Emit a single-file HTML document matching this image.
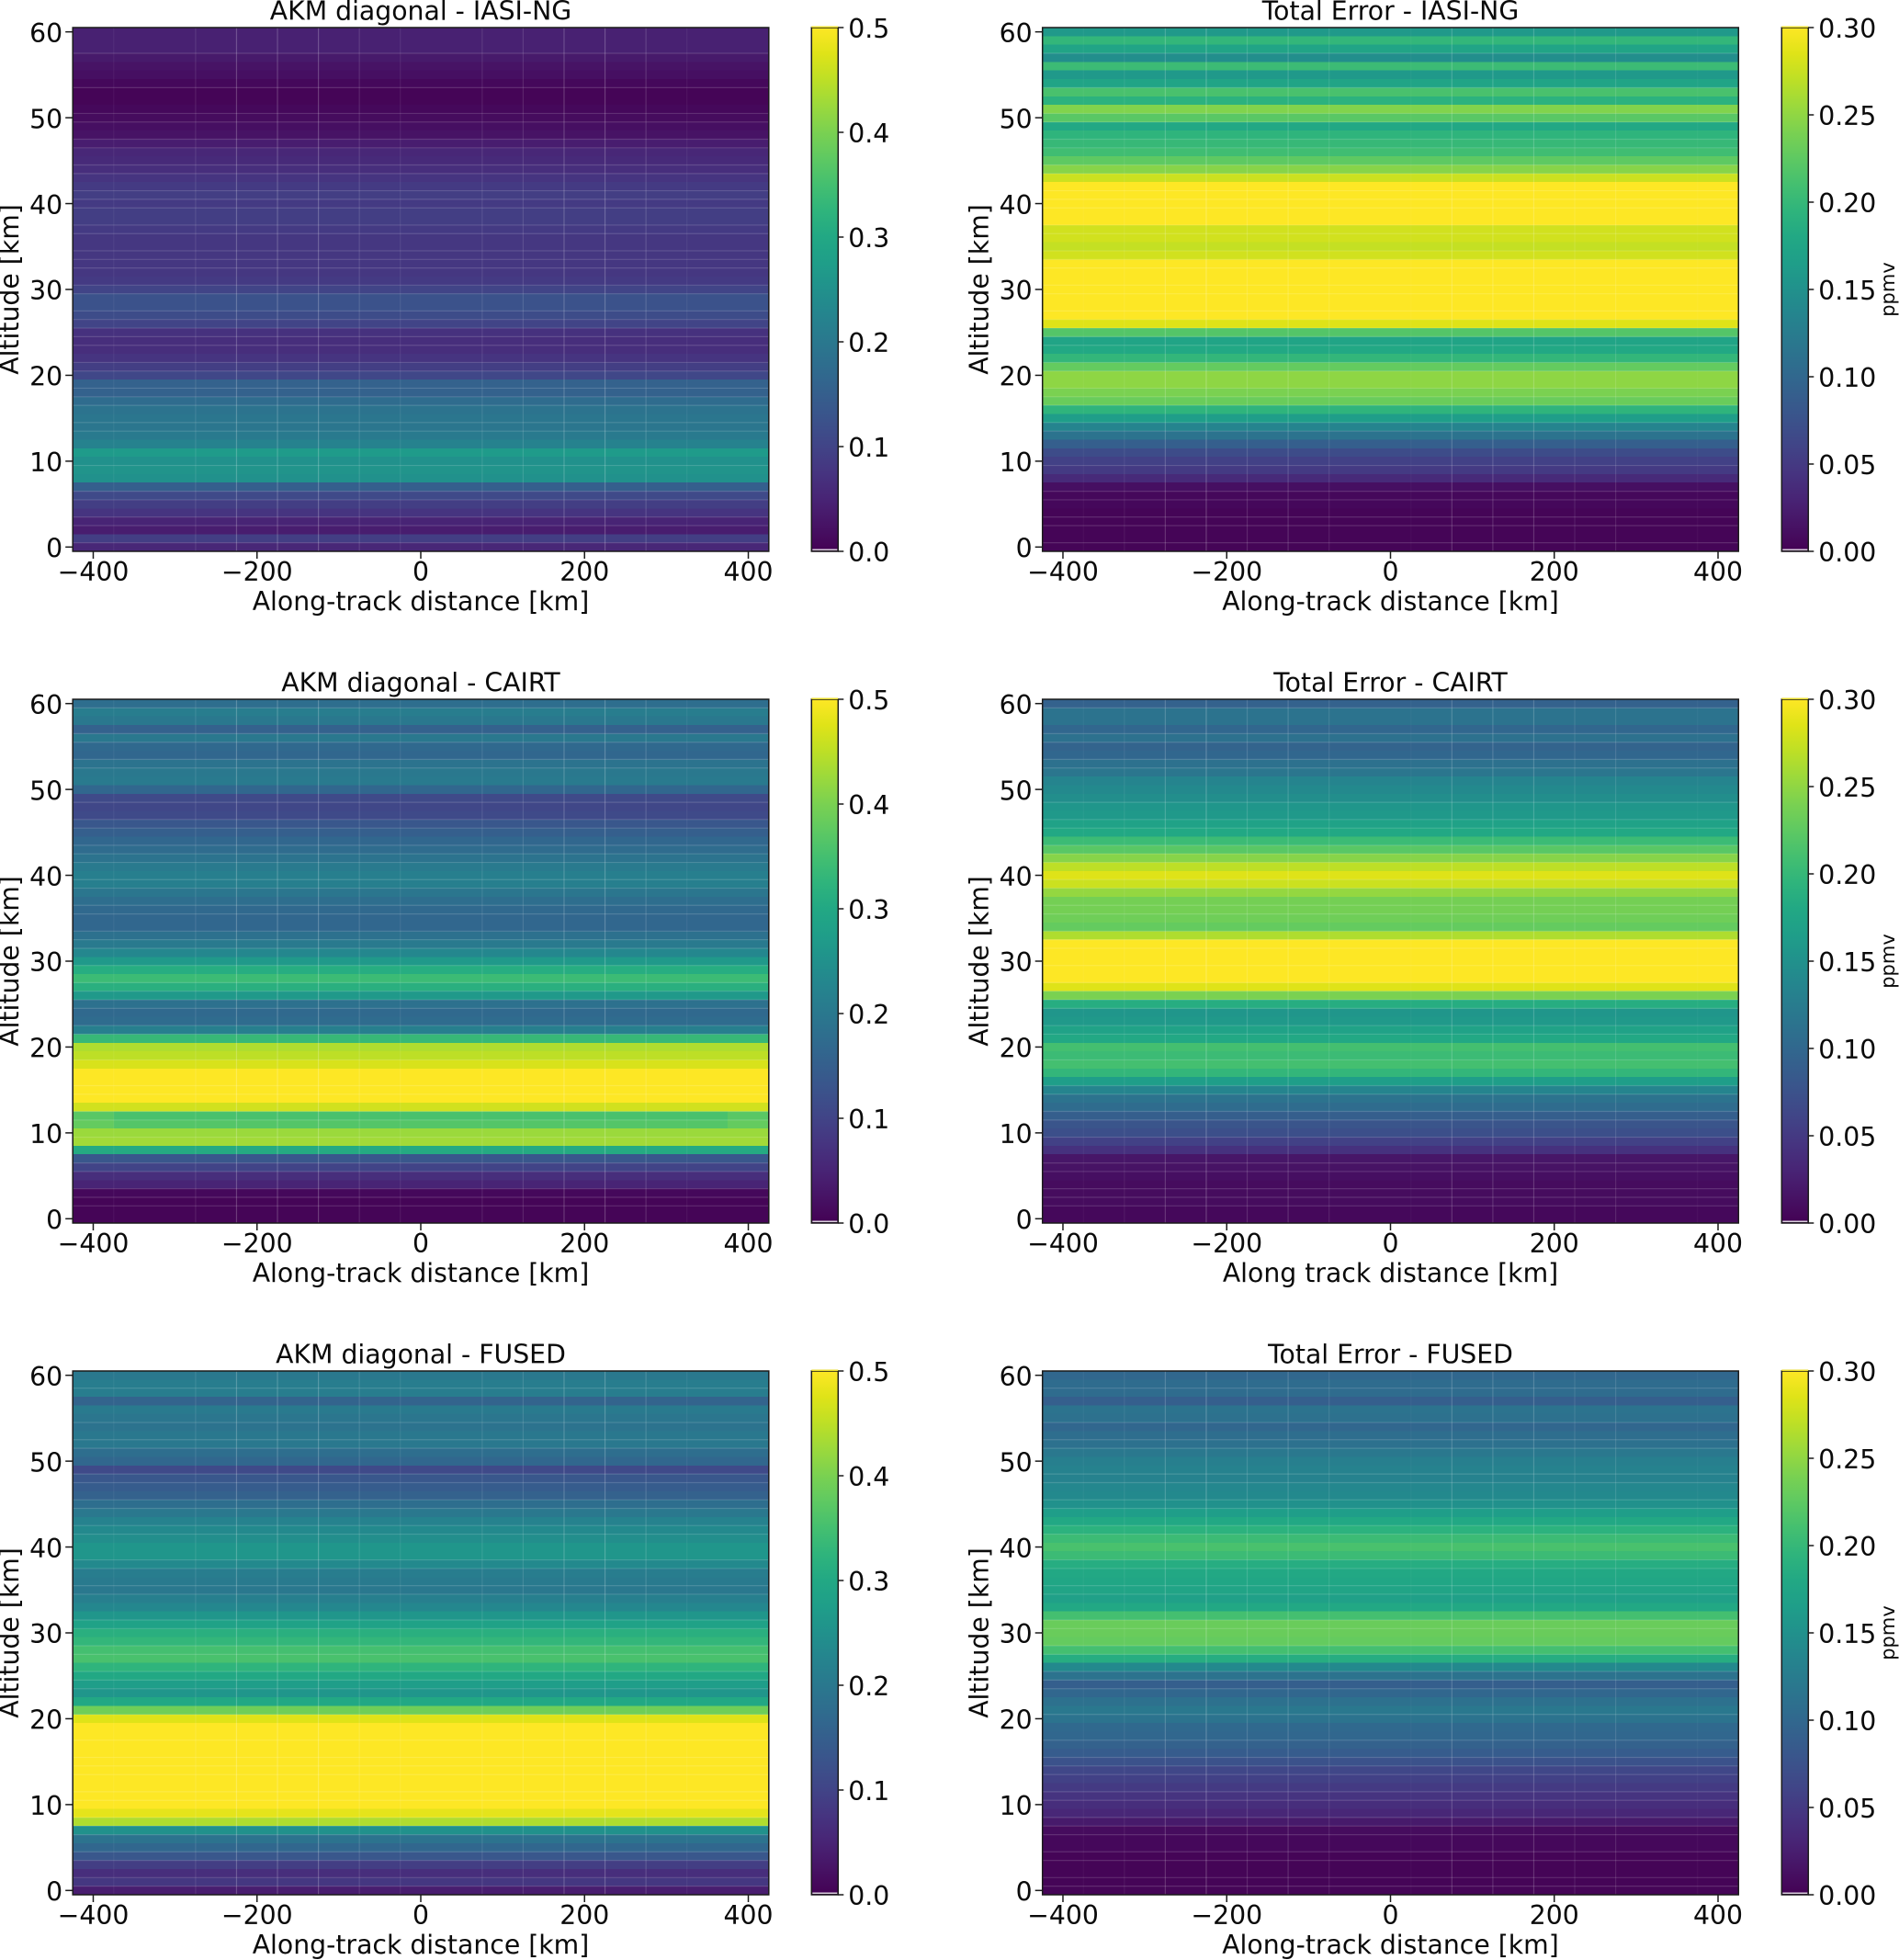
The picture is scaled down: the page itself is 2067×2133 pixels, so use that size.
<!DOCTYPE html>
<html lang="en">
<head>
<meta charset="utf-8">
<title>AKM diagonal and Total Error cross-sections</title>
<style>
html,body{margin:0;padding:0;background:#fff;}
svg{display:block;}
text{font-family:"DejaVu Sans","Liberation Sans",sans-serif;fill:#0a0a0a;}
</style>
</head>
<body>
<svg id="figure" xmlns="http://www.w3.org/2000/svg" width="2067" height="2133" viewBox="0 0 2067 2133">
<defs>
<linearGradient id="viridis-ramp" x1="0" y1="1" x2="0" y2="0"></linearGradient>
</defs>
<rect x="0" y="0" width="2067" height="2133" fill="#ffffff"></rect>
</svg>
<script>
const distances = [-400,-350,-300,-250,-200,-150,-100,-50,0,50,100,150,200,250,300,350,400];
const altitudes = [0,1,2,3,4,5,6,7,8,9,10,11,12,13,14,15,16,17,18,19,20,21,22,23,24,25,26,27,28,29,30,31,32,33,34,35,36,37,38,39,40,41,42,43,44,45,46,47,48,49,50,51,52,53,54,55,56,57,58,59,60];

const akmIasi = [.055,.09,.04,.05,.075,.09,.11,.15,.25,.255,
.25,.27,.22,.205,.195,.195,.19,.175,.155,.155,
.105,.09,.075,.065,.065,.07,.1,.115,.125,.125,
.1,.085,.08,.08,.08,.08,.08,.085,.09,.09,
.085,.09,.085,.075,.065,.06,.055,.04,.025,.02,
.015,.01,.005,.005,.01,.02,.025,.035,.045,.045,.045];
const errorIasi = [.003,.003,.003,.003,.003,.006,.006,.012,.036,.051,
.057,.069,.09,.114,.135,.165,.195,.231,.24,.249,
.249,.228,.198,.18,.174,.219,.285,.3,.3,.3,
.3,.3,.3,.3,.279,.273,.279,.279,.3,.3,
.3,.3,.3,.276,.246,.225,.207,.201,.195,.18,
.222,.243,.192,.213,.174,.159,.204,.147,.174,.198,.159];
const akmCairt = [.005,.005,.005,.01,.05,.065,.1,.135,.305,.43,
.425,.365,.355,.465,.5,.5,.5,.5,.47,.45,
.44,.335,.215,.175,.17,.185,.265,.315,.34,.31,
.265,.23,.205,.185,.165,.165,.17,.18,.195,.215,
.215,.205,.19,.175,.165,.15,.135,.11,.105,.11,
.165,.205,.2,.19,.165,.17,.2,.155,.2,.21,.18];
const errorCairt = [.006,.006,.009,.009,.009,.012,.015,.018,.042,.057,
.072,.078,.09,.105,.114,.135,.165,.198,.21,.204,
.21,.18,.171,.159,.156,.186,.24,.285,.3,.3,
.3,.3,.3,.264,.228,.234,.237,.237,.252,.276,
.285,.27,.246,.222,.204,.18,.171,.159,.156,.147,
.141,.135,.117,.111,.099,.096,.111,.099,.114,.114,.093];
const akmFused = [.04,.08,.065,.09,.135,.165,.19,.25,.44,.48,
.5,.5,.5,.5,.5,.5,.5,.5,.5,.5,
.475,.39,.3,.26,.275,.3,.325,.355,.35,.33,
.315,.285,.26,.23,.215,.2,.205,.21,.235,.26,
.26,.245,.235,.22,.2,.18,.155,.145,.135,.11,
.165,.18,.2,.2,.19,.195,.205,.16,.21,.21,.2];
const errorFused = [.003,.003,.003,.003,.003,.006,.006,.009,.021,.033,
.039,.045,.051,.057,.063,.075,.087,.093,.099,.102,
.114,.12,.111,.099,.09,.114,.141,.186,.21,.228,
.231,.231,.21,.18,.168,.174,.177,.18,.186,.204,
.213,.204,.192,.18,.165,.15,.141,.138,.132,.132,
.129,.12,.111,.108,.099,.111,.114,.09,.105,.105,.099];

const cairtEdgeDistances = [-400,400];
const cairtEdgeAltitudes = [11,12];
const cairtEdgeValues = [.38,.37];

const xTickValues = [-400,-200,0,200,400];
const yTickValues = [0,10,20,30,40,50,60];
const akmTickValues = [0,.1,.2,.3,.4,.5];
const errorTickValues = [0,.05,.1,.15,.2,.25,.3];

const viridisStops = ['#440154','#471365','#482475','#463480','#414487','#3b528b','#355f8d','#2f6c8e','#2a788e','#25848e','#21918c','#1f9e89','#22a884','#2fb47c','#44bf70','#5ec962','#7ad151','#9bd93c','#bddf26','#dfe318','#fde725'];

const svgNS = 'http://www.w3.org/2000/svg';
const figure = document.getElementById('figure');
const ramp = document.getElementById('viridis-ramp');

const AXIS_W = 757.6, AXIS_H = 570, X_MIN = -425, X_MAX = 425, Y_MIN = -0.5, Y_MAX = 60.5, BIN_KM = 50;
const FONT = 28.3;

viridisStops.forEach(function (c, i) {
  const s = document.createElementNS(svgNS, 'stop');
  s.setAttribute('offset', (i / (viridisStops.length - 1)).toString());
  s.setAttribute('stop-color', c);
  ramp.appendChild(s);
});

function hexToRgb(h) {
  return [parseInt(h.slice(1, 3), 16), parseInt(h.slice(3, 5), 16), parseInt(h.slice(5, 7), 16)];
}
function viridis(t) {
  const c = Math.max(0, Math.min(1, t)) * (viridisStops.length - 1);
  const i = Math.min(Math.floor(c), viridisStops.length - 2);
  const f = c - i;
  const a = hexToRgb(viridisStops[i]);
  const b = hexToRgb(viridisStops[i + 1]);
  return 'rgb(' + [0, 1, 2].map(function (k) { return Math.round(a[k] + (b[k] - a[k]) * f); }).join(',') + ')';
}
function make(tag, attrs, parent, content) {
  const e = document.createElementNS(svgNS, tag);
  Object.keys(attrs).forEach(function (k) { e.setAttribute(k, attrs[k]); });
  if (content !== undefined) e.textContent = content;
  parent.appendChild(e);
  return e;
}
function formatTick(v) {
  return (v < 0 ? '\u2212' : '') + Math.abs(v);
}

function drawPanel(p) {
  const left = p.left, top = p.top, bottom = top + AXIS_H, right = left + AXIS_W;
  const xScale = function (d) { return left + (d - X_MIN) / (X_MAX - X_MIN) * AXIS_W; };
  const yScale = function (a) { return bottom - (a - Y_MIN) / (Y_MAX - Y_MIN) * AXIS_H; };
  const cScale = function (v) { return bottom - v / p.vmax * AXIS_H; };

  const group = make('g', {}, figure);
  
  

  const cells = make('g', { 'shape-rendering': 'crispEdges' }, group);
  
  

  altitudes.forEach(function (alt, ai) {
    distances.forEach(function (dist) {
      let value = p.values[ai];
      if (p.edgeValues && p.edgeDistances.indexOf(dist) >= 0) {
        const ei = p.edgeAltitudes.indexOf(alt);
        if (ei >= 0) value = p.edgeValues[ei];
      }
      const cell = make('rect', {
        x: xScale(dist - BIN_KM / 2),
        y: yScale(alt + 0.5),
        width: xScale(dist + BIN_KM / 2) - xScale(dist - BIN_KM / 2),
        height: yScale(alt - 0.5) - yScale(alt + 0.5),
        fill: viridis(value / p.vmax)
      }, cells);
      
      
    });
  });

  const seams = make('g', { stroke: '#ffffff', 'stroke-width': 1.2 }, group);
  
  
  p.hSeams.forEach(function (k) {
    make('line', { x1: left, x2: right, y1: yScale(k + 0.5), y2: yScale(k + 0.5), 'stroke-opacity': 0.15 }, seams);
  });
  p.vSeams.forEach(function (b, i) {
    make('line', { x1: xScale(b), x2: xScale(b), y1: top, y2: bottom, 'stroke-opacity': p.vSeamAlpha[i] }, seams);
  });

  const frame = make('rect', { x: left, y: top, width: AXIS_W, height: AXIS_H, fill: 'none', stroke: '#1a1a1a', 'stroke-width': 1.5 }, group);
  
  

  xTickValues.forEach(function (v) {
    const tick = make('line', { x1: xScale(v), x2: xScale(v), y1: bottom, y2: bottom + 8, stroke: '#1a1a1a', 'stroke-width': 1.5 }, group);
    
    
    const label = make('text', { x: xScale(v), y: bottom + 32, 'text-anchor': 'middle', 'font-size': FONT }, group, formatTick(v));
    
    
  });
  yTickValues.forEach(function (v) {
    const tick = make('line', { x1: left - 8, x2: left, y1: yScale(v), y2: yScale(v), stroke: '#1a1a1a', 'stroke-width': 1.5 }, group);
    
    
    const label = make('text', { x: left - 11, y: yScale(v) + 11.2, 'text-anchor': 'end', 'font-size': FONT }, group, formatTick(v));
    
    
  });

  const title = make('text', { x: left + AXIS_W / 2, y: top - 8.5, 'text-anchor': 'middle', 'font-size': FONT }, group, p.title);
  
  

  const xTitle = make('text', { x: left + AXIS_W / 2, y: bottom + 64, 'text-anchor': 'middle', 'font-size': FONT }, group, p.xLabel);
  
  

  const yCx = left - 59, yCy = top + AXIS_H / 2;
  const yTitle = make('text', { x: yCx, y: yCy, 'text-anchor': 'middle', 'font-size': FONT, transform: 'rotate(-90 ' + yCx + ' ' + yCy + ')' }, group, 'Altitude [km]');
  
  

  const barX = p.barLeft, barW = 29;
  const bar = make('rect', { x: barX, y: top, width: barW, height: AXIS_H, fill: 'url(#viridis-ramp)', stroke: '#1a1a1a', 'stroke-width': 1.5 }, group);
  
  
  const capTop = make('rect', { x: barX, y: top - 1.5, width: barW, height: 1.5, fill: '#e8dc30' }, group);
  
  
  const capBottom = make('rect', { x: barX + 1, y: bottom - 2.5, width: barW - 2, height: 1.5, fill: '#d9d0dc' }, group);
  
  
  p.cTicks.forEach(function (v) {
    const tick = make('line', { x1: barX + barW, x2: barX + barW + 6, y1: cScale(v), y2: cScale(v), stroke: '#1a1a1a', 'stroke-width': 1.5 }, group);
    
    
    const label = make('text', { x: barX + barW + 11, y: cScale(v) + 11.2, 'font-size': FONT }, group, v.toFixed(p.cDigits));
    
    
  });
  if (p.unit) {
    const ux = 2062, uy = top + 285;
    const unit = make('text', { x: ux, y: uy, 'text-anchor': 'middle', 'font-size': 21, transform: 'rotate(-90 ' + ux + ' ' + uy + ')' }, group, p.unit);
    
    
  }
}

const rowTops = [30, 761, 1492];
const leftColumn = 79.2, rightColumn = 1134.7;
const seamsRow1 = [0,2,3,5,6,9,13,14,16,17,18,20,21,23,24,25,26,27,29,30,32,33,34,36,37,39,40,41,43,44,46,47,49,50,53,57];
const seamsRow2 = [1,2,3,5,6,9,11,12,14,15,18,21,22,24,25,26,27,29,31,32,33,35,36,38,39,41,42,43,45,46,48,52,53,55,56,59];
const seamsRow3 = [0,1,3,4,6,7,8,10,11,13,14,15,17,20,23,24,25,27,28,30,31,34,35,37,38,41,42,44,45,47,48,51,52,54,58];
const leftSeams = [-375,-275,-225,-175,-125,-75,-25,75,125,175,225,275,325];
const leftSeamAlpha = [.05,.1,.22,.2,.22,.12,.08,.1,.12,.2,.22,.15,.06];
const rightSeams = [-375,-325,-275,-225,-175,-125,-75,25,75,125,175,225,275,375];
const rightSeamAlpha = [.04,.07,.18,.22,.14,.16,.1,.03,.18,.16,.18,.1,.12,.04];

drawPanel({ key: 'akm-iasi-ng', title: 'AKM diagonal - IASI-NG', xLabel: 'Along-track distance [km]', values: akmIasi, vmax: .5, left: leftColumn, top: rowTops[0], barLeft: 883.3, cTicks: akmTickValues, cDigits: 1, hSeams: seamsRow1, vSeams: leftSeams, vSeamAlpha: leftSeamAlpha });
drawPanel({ key: 'error-iasi-ng', title: 'Total Error - IASI-NG', xLabel: 'Along-track distance [km]', values: errorIasi, vmax: .3, left: rightColumn, top: rowTops[0], barLeft: 1939.3, cTicks: errorTickValues, cDigits: 2, unit: 'ppmv', hSeams: seamsRow1, vSeams: rightSeams, vSeamAlpha: rightSeamAlpha });
drawPanel({ key: 'akm-cairt', title: 'AKM diagonal - CAIRT', xLabel: 'Along-track distance [km]', values: akmCairt, vmax: .5, left: leftColumn, top: rowTops[1], barLeft: 883.3, cTicks: akmTickValues, cDigits: 1, hSeams: seamsRow2, vSeams: leftSeams, vSeamAlpha: leftSeamAlpha, edgeDistances: cairtEdgeDistances, edgeAltitudes: cairtEdgeAltitudes, edgeValues: cairtEdgeValues });
drawPanel({ key: 'error-cairt', title: 'Total Error - CAIRT', xLabel: 'Along track distance [km]', values: errorCairt, vmax: .3, left: rightColumn, top: rowTops[1], barLeft: 1939.3, cTicks: errorTickValues, cDigits: 2, unit: 'ppmv', hSeams: seamsRow2, vSeams: rightSeams, vSeamAlpha: rightSeamAlpha });
drawPanel({ key: 'akm-fused', title: 'AKM diagonal - FUSED', xLabel: 'Along-track distance [km]', values: akmFused, vmax: .5, left: leftColumn, top: rowTops[2], barLeft: 883.3, cTicks: akmTickValues, cDigits: 1, hSeams: seamsRow3, vSeams: leftSeams, vSeamAlpha: leftSeamAlpha });
drawPanel({ key: 'error-fused', title: 'Total Error - FUSED', xLabel: 'Along-track distance [km]', values: errorFused, vmax: .3, left: rightColumn, top: rowTops[2], barLeft: 1939.3, cTicks: errorTickValues, cDigits: 2, unit: 'ppmv', hSeams: seamsRow3, vSeams: rightSeams, vSeamAlpha: rightSeamAlpha });
</script>
</body>
</html>
